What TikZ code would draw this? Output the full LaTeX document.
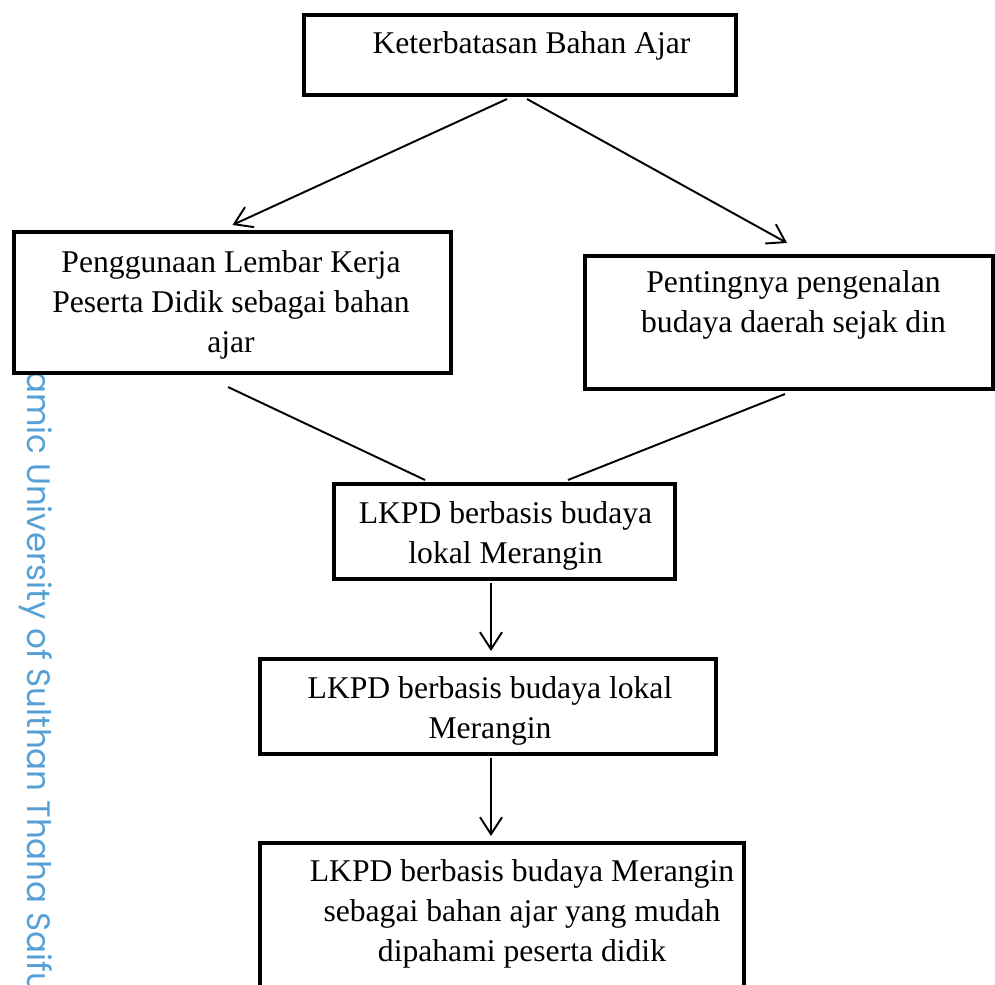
\documentclass[tikz,border=0pt]{standalone}
\usepackage{fontspec}
\setmainfont{Liberation Serif}
\newfontfamily\wmfont{Poppins}
\usepackage{xcolor}
\usepackage{tikz}
\usetikzlibrary{positioning,arrows.meta}
\definecolor{wmblue}{RGB}{86,160,214}

\begin{document}
\begin{tikzpicture}[
  box/.style={draw, line width=2.3pt, fill=white, inner sep=0pt},
  txt/.style={font=\fontsize{18}{22.8}\selectfont, align=center, inner sep=0pt, anchor=north},
  wm/.style={font=\wmfont\fontsize{18.5}{18.5}\selectfont, text=wmblue, rotate=-90, anchor=base west, inner sep=0pt},
  arrow/.style={-{Straight Barb[length=3.4mm,width=4.4mm]}, line width=1.1pt},
  link/.style={line width=1.1pt}
]
\useasboundingbox (0,0) rectangle (19.9,-19.7);

\node[wm] (watermark) at (0.54,-7.42) {amic University of Sulthan Thaha Saifu};

\node[box, minimum width=8.64cm, minimum height=1.60cm] (bahan) at (10.40,-1.10) {};
\node[box, minimum width=8.74cm, minimum height=2.82cm] (lembar) at (4.65,-6.05) {};
\node[box, minimum width=8.16cm, minimum height=2.66cm] (budaya) at (15.78,-6.45) {};
\node[box, minimum width=6.82cm, minimum height=1.90cm] (lkpd) at (10.09,-10.63) {};
\node[box, minimum width=9.12cm, minimum height=1.90cm] (lkpdlokal) at (9.76,-14.13) {};
\node[box, minimum width=9.68cm, minimum height=3.54cm] (hasil) at (10.04,-18.63) {};

\node[txt] (bahanT) at ([xshift=0.23cm,yshift=-0.37cm]bahan.north) {Keterbatasan Bahan Ajar};
\node[txt] (lembarT) at ([xshift=-0.03cm,yshift=-0.41cm]lembar.north) {Penggunaan Lembar Kerja\\Peserta Didik sebagai bahan\\ajar};
\node[txt] (budayaT) at ([xshift=0.09cm,yshift=-0.33cm]budaya.north) {Pentingnya pengenalan\\budaya daerah sejak din};
\node[txt] (lkpdT) at ([xshift=0.02cm,yshift=-0.39cm]lkpd.north) {LKPD berbasis budaya\\lokal Merangin};
\node[txt] (lkpdlokalT) at ([xshift=0.04cm,yshift=-0.39cm]lkpdlokal.north) {LKPD berbasis budaya lokal\\Merangin};
\node[txt] (hasilT) at ([xshift=0.40cm,yshift=-0.37cm]hasil.north) {LKPD berbasis budaya Merangin\\sebagai bahan ajar yang mudah\\dipahami peserta didik};

\draw[arrow] ([xshift=-0.26cm,yshift=-0.04cm]bahan.south) -- ([yshift=0.10cm]lembar.north);
\draw[arrow] ([xshift=0.14cm,yshift=-0.04cm]bahan.south) -- ([xshift=-0.04cm,yshift=0.22cm]budaya.north);
\draw[link] ([xshift=-0.09cm,yshift=-0.24cm]lembar.south) -- ([xshift=-1.59cm,yshift=0.04cm]lkpd.north);
\draw[link] ([xshift=-0.08cm,yshift=-0.06cm]budaya.south) -- ([xshift=1.27cm,yshift=0.04cm]lkpd.north);
\draw[arrow] ([xshift=-0.27cm,yshift=-0.04cm]lkpd.south) -- ([xshift=0.06cm,yshift=0.12cm]lkpdlokal.north);
\draw[arrow] ([xshift=0.06cm,yshift=-0.04cm]lkpdlokal.south) -- ([xshift=-0.22cm,yshift=0.10cm]hasil.north);

\end{tikzpicture}
\end{document}
